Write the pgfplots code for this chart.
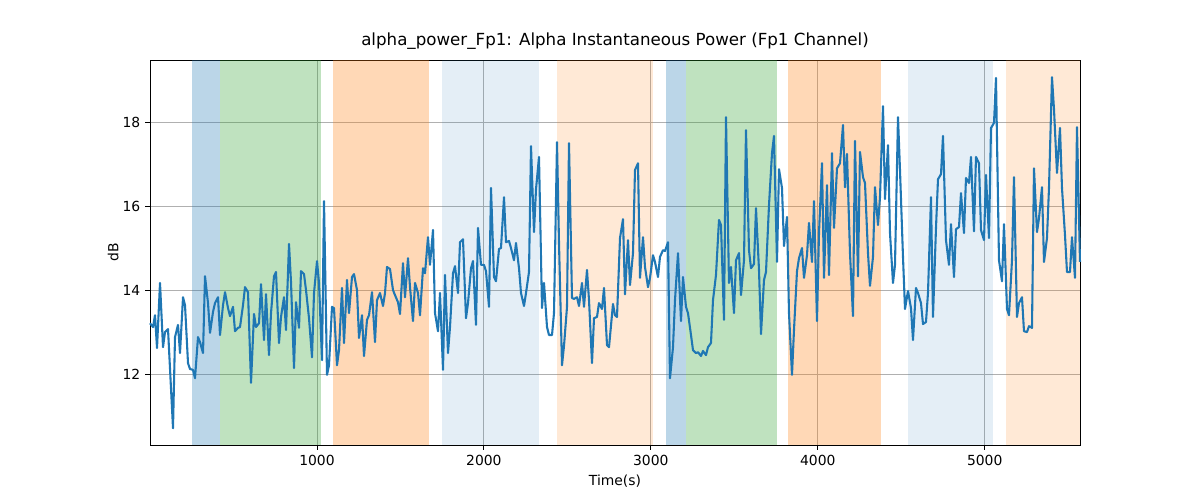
\documentclass[border=0pt]{standalone}
\usepackage{pgfplots}
\pgfplotsset{compat=1.18}
\usepackage{pgfplotstable}
\usepackage{fontspec}
\setmainfont{DejaVu Sans}
\definecolor{tb}{HTML}{1F77B4}
\definecolor{tg}{HTML}{2CA02C}
\definecolor{to}{HTML}{FF7F0E}
\definecolor{gr}{HTML}{B0B0B0}
\pgfplotstableread{
px y
150 13.21
153 13.12
155 13.4
157 12.62
160 14.17
163 12.64
165 13.0
168 13.07
173 10.71
175 12.88
178 13.17
180 12.5
183 13.83
185 13.64
188 12.26
190 12.12
193 12.1
195 11.9
198 12.88
200 12.76
203 12.5
205 14.33
208 13.69
210 12.98
213 13.48
215 13.69
218 13.83
220 12.93
223 13.64
225 13.95
228 13.57
230 13.38
233 13.6
235 13.02
238 13.1
240 13.12
243 13.64
245 14.07
248 13.95
251 11.79
254 13.43
256 13.12
259 13.21
261 14.14
264 12.81
266 13.9
269 12.45
271 13.45
274 14.33
276 14.43
279 12.74
281 13.36
284 13.83
286 13.05
289 15.1
291 14.19
294 12.14
296 13.71
299 13.1
301 14.45
304 14.38
306 14.0
309 13.33
312 12.4
314 13.93
317 14.69
319 14.17
322 12.33
324 16.12
327 11.98
329 12.21
332 13.6
334 13.57
337 12.21
339 12.57
342 14.05
344 12.74
347 14.24
349 13.45
352 14.31
354 14.38
357 14.0
359 12.86
362 13.4
364 12.43
367 13.29
369 13.4
372 13.95
375 12.76
377 13.76
380 13.93
383 13.62
385 13.93
387 14.55
390 14.5
393 14.0
395 13.88
398 13.71
400 13.43
403 14.64
405 13.83
408 14.76
410 14.07
413 13.26
415 14.17
418 13.93
420 13.4
423 14.52
425 14.4
428 15.26
430 14.6
433 15.43
435 13.45
438 13.02
440 13.93
443 12.1
445 14.36
448 12.5
450 13.12
453 14.4
455 14.57
458 13.93
460 15.14
463 15.21
466 13.33
468 13.69
471 14.52
473 14.69
476 13.17
478 15.48
481 14.6
484 14.6
486 14.45
489 13.6
491 16.43
494 14.31
496 14.21
499 14.98
501 15.0
504 16.21
506 15.14
509 15.17
511 15.0
514 14.71
516 15.12
519 14.52
521 13.93
524 13.62
526 13.93
529 14.43
531 17.43
534 15.38
536 16.4
539 17.17
542 13.57
544 14.17
547 13.12
549 12.93
552 12.93
554 13.45
557 17.52
559 15.12
562 12.21
564 12.67
567 13.6
569 17.5
572 13.81
574 13.79
577 13.83
579 13.62
582 14.17
584 13.6
587 14.48
589 13.76
592 12.26
594 13.33
597 13.36
599 13.69
602 13.55
604 14.05
607 12.69
609 12.64
613 13.67
615 13.4
617 13.36
620 15.24
623 15.69
625 13.9
628 15.19
630 14.12
633 14.88
635 16.86
638 17.02
640 14.29
643 15.26
645 14.55
648 14.07
650 14.29
653 14.83
655 14.67
658 14.31
660 14.79
663 14.95
665 14.93
668 15.14
670 11.9
673 12.64
675 13.76
678 14.88
681 13.26
683 14.31
686 13.6
688 13.45
691 12.93
693 12.57
696 12.5
698 12.52
701 12.43
703 12.55
706 12.45
708 12.64
711 12.74
713 13.76
716 14.36
719 15.67
721 15.55
724 13.29
726 18.12
729 14.17
731 14.55
734 13.45
736 14.71
739 14.88
741 13.88
744 14.71
746 17.81
749 14.95
751 14.52
754 14.62
756 15.95
759 14.48
761 12.95
764 14.24
766 14.43
769 16.02
772 17.26
774 17.67
777 14.67
779 16.88
782 16.43
784 15.05
787 15.74
789 13.45
792 11.98
794 13.05
797 14.45
799 14.76
802 15.0
804 14.29
807 14.83
809 15.6
812 14.67
814 16.12
817 13.26
819 15.36
822 17.02
824 14.29
827 16.5
829 14.36
832 17.26
834 15.48
837 16.9
840 17.02
843 17.93
845 16.45
847 17.24
850 14.88
853 13.38
855 17.55
858 14.33
860 17.29
863 16.69
865 16.55
868 14.88
870 14.1
873 14.79
875 16.45
878 15.55
880 16.21
883 18.38
885 16.17
888 17.45
890 15.36
893 14.17
895 14.6
898 18.12
900 16.86
903 14.79
905 13.55
908 13.98
911 13.57
913 12.81
916 14.05
918 13.93
921 13.69
923 13.19
926 13.24
928 13.93
931 16.21
933 13.36
936 15.48
938 16.64
941 16.76
943 17.67
946 15.19
949 14.6
951 15.57
954 14.31
956 15.45
959 15.5
961 16.31
964 15.36
966 16.67
969 16.55
971 17.17
974 15.4
976 17.17
979 17.02
981 15.43
984 15.19
986 16.74
989 15.24
991 17.86
994 17.98
996 19.05
999 14.71
1002 14.21
1004 15.57
1007 13.55
1009 13.4
1012 14.71
1014 16.69
1017 13.36
1019 13.69
1022 13.83
1024 13.02
1027 13.0
1029 13.14
1032 13.1
1034 16.9
1037 15.38
1039 15.71
1042 16.45
1044 14.67
1047 15.24
1049 16.43
1052 19.07
1054 18.31
1057 16.79
1060 17.86
1062 16.43
1065 15.31
1067 14.43
1070 14.43
1072 15.26
1075 14.29
1077 17.88
1080 14.67
}\data
\begin{document}
\begin{tikzpicture}
\begin{axis}[
  scale only axis, width=669.6pt, height=277.2pt,
  xmin=0, xmax=5571, ymin=10.31, ymax=19.48,
  xtick={1000,2000,3000,4000,5000}, ytick={12,14,16,18},
  xtick pos=left, ytick pos=left,
  grid=major, grid style={color=gr, line width=0.58pt},
  axis line style={line width=0.58pt},
  tick style={line width=0.58pt, black},
  tick label style={font=\fontsize{10}{12}\selectfont},
  /pgf/number format/assume math mode=true,
  /pgf/number format/1000 sep={},
  xlabel={Time(s)}, ylabel={dB},
  label style={font=\fontsize{10}{12}\selectfont},
  title={alpha\_power\_Fp1: Alpha Instantaneous Power (Fp1 Channel)},
  title style={font=\fontsize{12}{14}\selectfont, yshift=-2pt},
  xlabel style={yshift=0pt}, ylabel style={yshift=-4pt},
  tick align=outside, major tick length=3.5pt,
  clip=false,
]
\path (rel axis cs:-0.1613,-0.1429) rectangle (rel axis cs:1.1290,1.1558);
\begin{scope}
\fill[tb, fill opacity=0.3] (axis cs:252,10.31) rectangle (axis cs:419,19.48);
\fill[tg, fill opacity=0.3] (axis cs:419,10.31) rectangle (axis cs:1024,19.48);
\fill[to, fill opacity=0.3] (axis cs:1096,10.31) rectangle (axis cs:1671,19.48);
\fill[tb, fill opacity=0.12] (axis cs:1749,10.31) rectangle (axis cs:2330,19.48);
\fill[to, fill opacity=0.17] (axis cs:2438,10.31) rectangle (axis cs:3013,19.48);
\fill[tb, fill opacity=0.3] (axis cs:3091,10.31) rectangle (axis cs:3211,19.48);
\fill[tg, fill opacity=0.3] (axis cs:3211,10.31) rectangle (axis cs:3756,19.48);
\fill[to, fill opacity=0.3] (axis cs:3822,10.31) rectangle (axis cs:4379,19.48);
\fill[tb, fill opacity=0.12] (axis cs:4540,10.31) rectangle (axis cs:5050,19.48);
\fill[to, fill opacity=0.17] (axis cs:5127,10.31) rectangle (axis cs:5571,19.48);
\end{scope}
\addplot[tb, line width=1.5pt, line join=round] table[x expr={(\thisrow{px}-150)*5.99}, y=y] {\data};
\end{axis}
\end{tikzpicture}
\end{document}
